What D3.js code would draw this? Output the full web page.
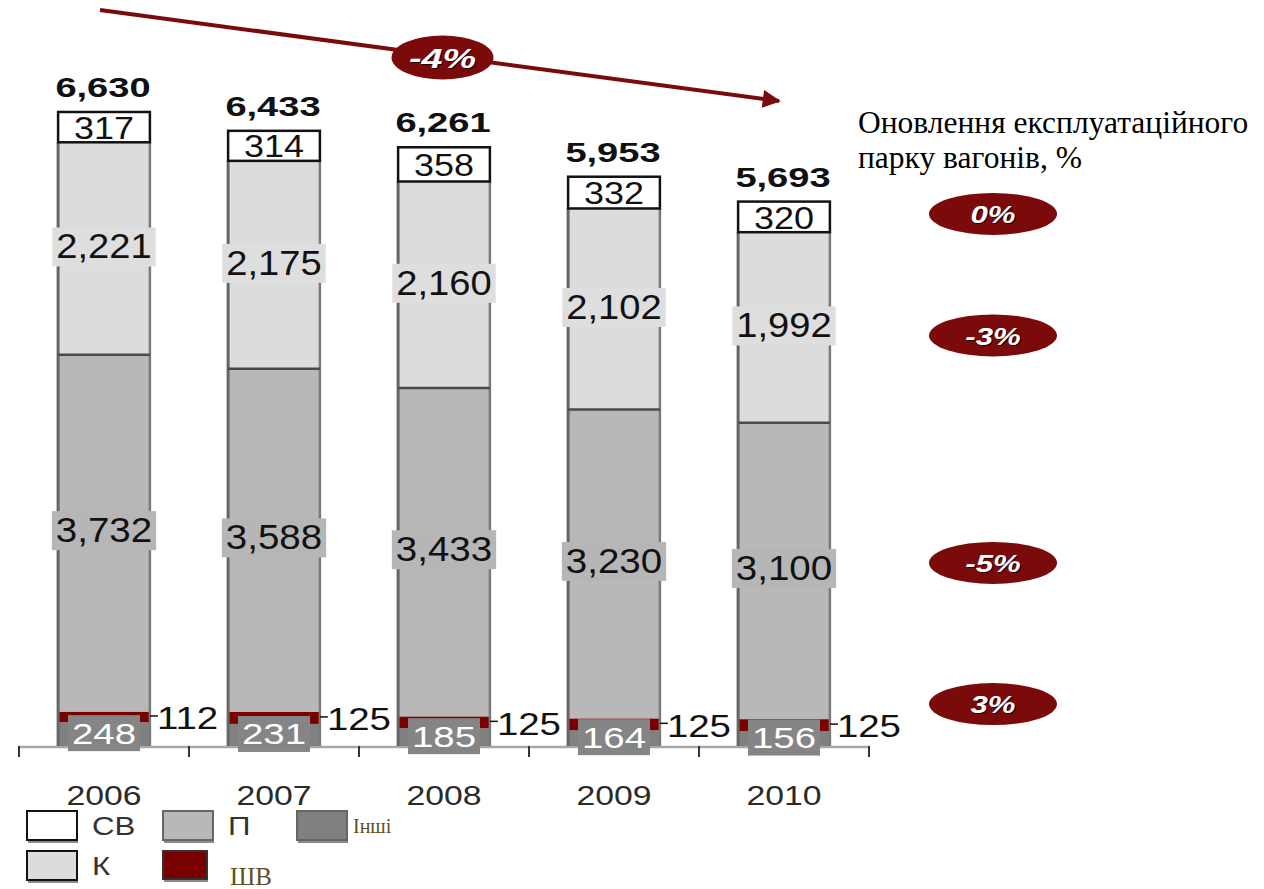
<!DOCTYPE html>
<html>
<head>
<meta charset="utf-8">
<script src="https://cdn.jsdelivr.net/npm/d3@7"></script>
<style>
  html, body { margin: 0; padding: 0; background: #fff; }
  svg { display: block; }
</style>
</head>
<body>
<svg id="chart" width="1264" height="889"></svg>
<script>
// Fleet of wagons by type, thousands
const years = ["2006", "2007", "2008", "2009", "2010"];
const valuesSV = [317, 314, 358, 332, 320];       // СВ
const valuesK = [2221, 2175, 2160, 2102, 1992];   // К
const valuesP = [3732, 3588, 3433, 3230, 3100];   // П
const valuesSHV = [112, 125, 125, 125, 125];      // ШВ
const valuesOther = [248, 231, 185, 164, 156];    // Інші
const totals = [6630, 6433, 6261, 5953, 5693];

// Average annual renewal of the operating fleet
const overallChange = "-4%";
const renewalKeys = ["СВ", "К", "П", "ШВ"];
const renewalLabels = ["0%", "-3%", "-5%", "3%"];

const titleLines = ["Оновлення експлуатаційного", "парку вагонів, %"];

const keys = ["Інші", "ШВ", "П", "К", "СВ"];
const colors = { "СВ": "#ffffff", "К": "#dcdcdc", "П": "#b8b8b8", "Інші": "#808080", "ШВ": "#7a0000" };

const rows = years.map((yr, i) => ({
  year: yr,
  "СВ": valuesSV[i], "К": valuesK[i], "П": valuesP[i], "ШВ": valuesSHV[i], "Інші": valuesOther[i]
}));

const svg = d3.select("#chart");
const x = d3.scaleBand().domain(years).range([19, 869]).paddingInner(0.46).paddingOuter(0.23);
const y = d3.scaleLinear().domain([0, 7000]).range([746, 76.6]);
const fmt = d3.format(",");

const stacked = d3.stack().keys(keys)(rows);
const byKey = {};
stacked.forEach(s => byKey[s.key] = s);

const darkRed = "#7b0a0a";
const sans = "Arial, 'Liberation Sans', sans-serif";
const serif = "'Times New Roman', 'Liberation Serif', serif";

// horizontally widened text helper
function wideText(parent, tx, ty, str, opts) {
  const g = parent.append("g").attr("transform", `translate(${tx},${ty}) scale(${opts.sx || 1},1)`);
  const t = g.append("text")
    .attr("text-anchor", opts.anchor || "middle")
    .attr("dominant-baseline", opts.baseline || "central")
    .attr("font-family", opts.family || sans)
    .attr("font-size", opts.size)
    .attr("font-weight", opts.weight || "normal")
    .attr("font-style", opts.style || "normal")
    .attr("fill", opts.fill || "#111")
    .text(str);
  return { g, t };
}

// axis line and ticks at band boundaries
const axisG = svg.append("g");
const [r0, r1] = x.range();
axisG.append("line").attr("x1", r0).attr("x2", r1).attr("y1", y(0) + 1).attr("y2", y(0) + 1)
  .attr("stroke", "#a8a8a8").attr("stroke-width", 2.5);
const bounds = [r0].concat(years.map(yr => x(yr) + x.bandwidth() + x.step() * x.paddingInner() / 2));
bounds[bounds.length - 1] = r1;
axisG.selectAll("line.tick").data(bounds).join("line").attr("class", "tick")
  .attr("x1", d => d).attr("x2", d => d).attr("y1", y(0)).attr("y2", y(0) + 11)
  .attr("stroke", "#333").attr("stroke-width", 2);

// stacked segments
const barsG = svg.append("g");
keys.forEach(key => {
  barsG.selectAll(null).data(byKey[key]).join("rect")
    .attr("x", (d, i) => x(years[i]))
    .attr("width", x.bandwidth())
    .attr("y", d => y(d[1]))
    .attr("height", d => y(d[0]) - y(d[1]))
    .attr("fill", colors[key]);
});

// bar sides
years.forEach((yr, i) => {
  const x0 = x(yr), x1 = x0 + x.bandwidth();
  const top = y(totals[i]);
  const svTop = y(byKey["К"][i][1]);
  barsG.append("line").attr("x1", x0).attr("x2", x0).attr("y1", svTop).attr("y2", y(0))
    .attr("stroke", "#666").attr("stroke-width", 3);
  barsG.append("line").attr("x1", x1).attr("x2", x1).attr("y1", svTop).attr("y2", y(0))
    .attr("stroke", "#7a7a7a").attr("stroke-width", 2.5);
  // П / К boundary
  const pk = y(byKey["П"][i][1]);
  barsG.append("line").attr("x1", x0).attr("x2", x1).attr("y1", pk).attr("y2", pk)
    .attr("stroke", "#4a4a4a").attr("stroke-width", 2.5);
  // СВ box
  barsG.append("rect").attr("x", x0).attr("y", top).attr("width", x.bandwidth()).attr("height", svTop - top)
    .attr("fill", "none").attr("stroke", "#111").attr("stroke-width", 2.5);
});

// boxed labels inside segments
function boxedLabel(cx, cy, str, fill, textFill, size, sx, padX, boxTop, boxBottom) {
  const grp = svg.append("g");
  const { t } = wideText(grp, cx, cy, str, { size, sx, fill: textFill });
  const bb = t.node().getBBox();
  grp.insert("rect", ":first-child")
    .attr("x", cx + bb.x * sx - padX).attr("width", bb.width * sx + 2 * padX)
    .attr("y", cy - boxTop).attr("height", boxTop + boxBottom)
    .attr("fill", fill);
}

years.forEach((yr, i) => {
  const cx = x(yr) + x.bandwidth() / 2;
  const mid = key => (y(byKey[key][i][0]) + y(byKey[key][i][1])) / 2;
  boxedLabel(cx, mid("К") - 2, fmt(valuesK[i]), "#dedede", "#111", 35, 1.09, 4, 19, 20);
  boxedLabel(cx, mid("П") - 3, fmt(valuesP[i]), "#b6b6b6", "#111", 35, 1.1, 4, 19, 20);
  boxedLabel(cx, mid("Інші") - 1, fmt(valuesOther[i]), "#858585", "#fff", 30, 1.28, 4, 18, 18);
  // СВ label in its white box
  wideText(svg, cx, mid("СВ") + 1, fmt(valuesSV[i]), { size: 31, sx: 1.16, fill: "#111" });
  // ШВ value outside, with a short leader
  const x1 = x(yr) + x.bandwidth();
  const ly = mid("ШВ");
  svg.append("line").attr("x1", x1).attr("x2", x1 + 8).attr("y1", ly - 1).attr("y2", ly - 1)
    .attr("stroke", "#111").attr("stroke-width", 1.5);
  wideText(svg, x1 + 7, ly + 1, fmt(valuesSHV[i]), { size: 32, sx: 1.2, anchor: "start", fill: "#111" });
  // totals
  wideText(svg, cx - 1, y(totals[i]) - 15, fmt(totals[i]), { size: 28, sx: 1.36, weight: "bold", fill: "#111", baseline: "alphabetic" });
  // year labels
  wideText(svg, cx, y(0) + 59, yr, { size: 27, sx: 1.25, fill: "#2a2a2a", baseline: "alphabetic" });
});

// overall trend arrow
const defs = svg.append("defs");
defs.append("marker").attr("id", "arrowHead").attr("viewBox", "0 0 10 10")
  .attr("refX", 9).attr("refY", 5).attr("markerWidth", 5).attr("markerHeight", 4.5)
  .attr("orient", "auto").attr("markerUnits", "strokeWidth")
  .append("path").attr("d", "M0,0 L10,5 L0,10 Z").attr("fill", darkRed);

const ax0 = x(years[0]) + x.bandwidth() / 2 - 4, ay0 = 10;
const ax1 = x(years[years.length - 1]) + x.bandwidth() / 2 - 5, ay1 = 101;
svg.append("line").attr("x1", ax0).attr("y1", ay0).attr("x2", ax1).attr("y2", ay1)
  .attr("stroke", darkRed).attr("stroke-width", 4).attr("marker-end", "url(#arrowHead)");

function badge(cx, cy, rx, ry, str, size, sx) {
  svg.append("ellipse").attr("cx", cx).attr("cy", cy).attr("rx", rx).attr("ry", ry).attr("fill", darkRed);
  wideText(svg, cx + 1, cy + 2, str, { size, sx, weight: "bold", style: "italic", fill: "#2a0000" });
  wideText(svg, cx, cy + 1, str, { size, sx, weight: "bold", style: "italic", fill: "#ffffff" });
}
badge((ax0 + ax1) / 2 + 3, (ay0 + ay1) / 2 + 2, 51, 22, overallChange, 27, 1.4);

// renewal badges by wagon type, aligned with the 2010 segments
const lastIdx = years.length - 1;
const badgeShift = { "СВ": -3, "К": 8, "П": -8, "ШВ": -21 };
renewalKeys.forEach((key, j) => {
  const s = byKey[key][lastIdx];
  const cy = (y(s[0]) + y(s[1])) / 2 + badgeShift[key];
  badge(993, cy, 64, 21, renewalLabels[j], 24, 1.3);
});

// side title
svg.append("text").attr("x", 858).attr("y", 133).attr("font-family", serif).attr("font-size", 31.5).attr("fill", "#000")
  .selectAll("tspan").data(titleLines).join("tspan")
  .attr("x", 858).attr("dy", (d, i) => i === 0 ? 0 : 35).text(d => d);

// legend
const legend = svg.append("g");
const legendItems = [
  { key: "СВ", bx: 27, by: 811, bw: 50, bh: 30, tx: 92, ty: 826, font: sans, size: 25, sx: 1.25, color: "#333", edge: "#111" },
  { key: "П", bx: 163, by: 811, bw: 50, bh: 30, tx: 228, ty: 826, font: sans, size: 25, sx: 1.25, color: "#333", edge: "#666" },
  { key: "Інші", bx: 297, by: 811, bw: 50, bh: 30, tx: 353, ty: 826, font: serif, size: 20, sx: 1, color: "#5e5020", edge: "#666" },
  { key: "К", bx: 27, by: 851, bw: 50, bh: 30, tx: 92, ty: 866, font: sans, size: 25, sx: 1.25, color: "#333", edge: "#111" },
  { key: "ШВ", bx: 163, by: 851, bw: 44, bh: 29, tx: 230, ty: 876, font: serif, size: 25, sx: 1, color: "#5e5020", edge: "#333" }
];
legendItems.forEach(it => {
  legend.append("rect").attr("x", it.bx + 1).attr("y", it.by + 2).attr("width", it.bw).attr("height", it.bh)
    .attr("fill", "#8a8a8a");
  legend.append("rect").attr("x", it.bx).attr("y", it.by).attr("width", it.bw).attr("height", it.bh - 1)
    .attr("fill", colors[it.key]).attr("stroke", it.edge).attr("stroke-width", 2);
  wideText(legend, it.tx, it.ty, it.key, { size: it.size, sx: it.sx, anchor: "start", family: it.font, fill: it.color });
});
</script>
</body>
</html>
